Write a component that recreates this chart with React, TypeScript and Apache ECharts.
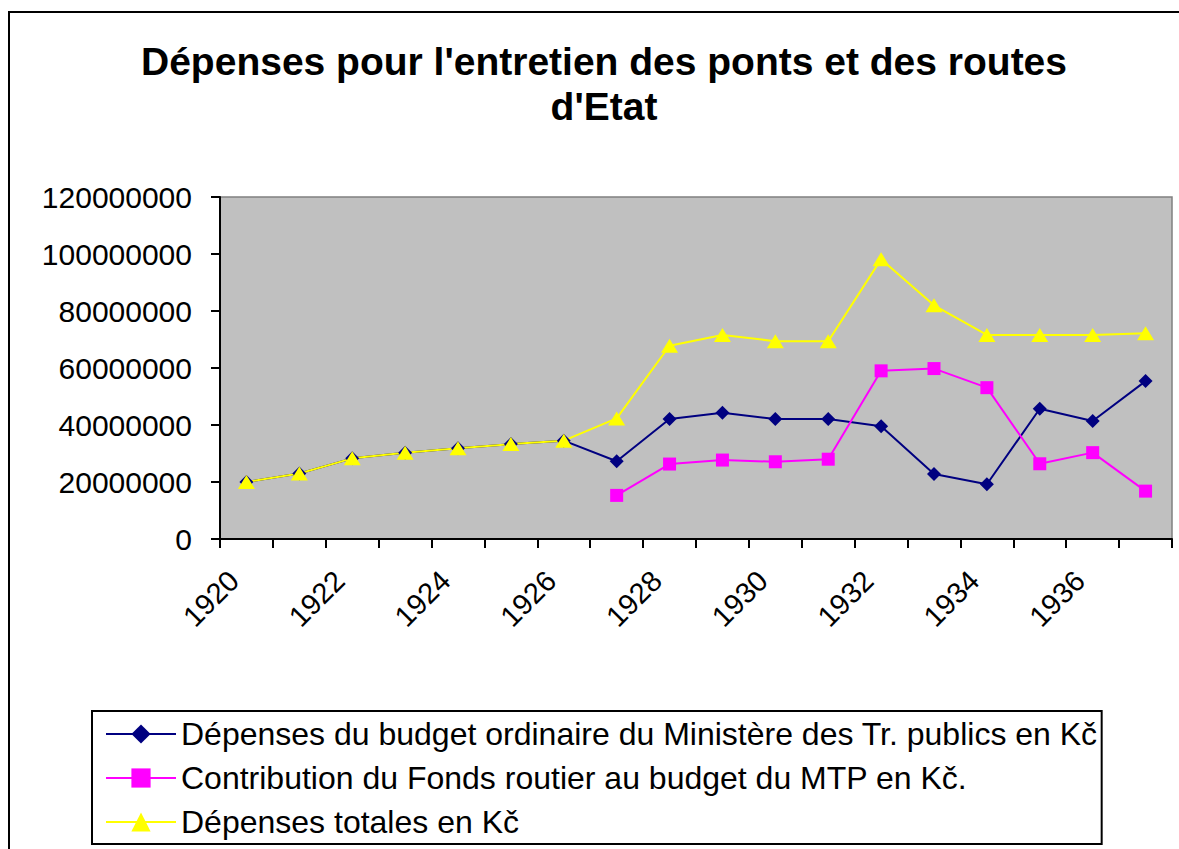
import React, { useEffect, useRef } from 'react';
import * as echarts from 'echarts';

const years = ['1920', '1921', '1922', '1923', '1924', '1925', '1926', '1927', '1928', '1929', '1930', '1931', '1932', '1933', '1934', '1935', '1936', '1937'];

const ministere = [20000000, 23000000, 28300000, 30300000, 31800000, 33300000, 34500000, 27300000, 42100000, 44300000, 42100000, 42100000, 39600000, 22800000, 19200000, 45700000, 41400000, 55400000];

const fondsRoutier = [null, null, null, null, null, null, null, 15300000, 26300000, 27700000, 27100000, 28000000, 59000000, 59800000, 53100000, 26400000, 30300000, 16800000];

const totales = [20000000, 23000000, 28300000, 30300000, 31800000, 33300000, 34500000, 42300000, 67800000, 71600000, 69400000, 69400000, 98200000, 82000000, 71600000, 71600000, 71600000, 72200000];

const seriesNames = [
  'Dépenses du budget ordinaire du Ministère des Tr. publics en Kč',
  'Contribution du Fonds routier au budget du MTP en Kč.',
  'Dépenses totales en Kč',
];

const titleText = "Dépenses pour l'entretien des ponts et des routes\nd'Etat";

const FONT = '"Liberation Sans", Arial, sans-serif';

export default function App() {
  const ref = useRef<HTMLDivElement>(null);
  useEffect(() => {
    const chart = echarts.init(ref.current!, null, { renderer: 'svg' });
    chart.setOption({
      animation: false,
      backgroundColor: '#ffffff',
      textStyle: { fontFamily: FONT },
      title: {
        text: titleText,
        left: 599,
        top: 34,
        textAlign: 'center',
        textStyle: {
          fontFamily: FONT,
          fontSize: 39,
          fontWeight: 'bold',
          color: '#000',
          lineHeight: 45,
        },
      },
      graphic: [
        {
          type: 'rect',
          shape: { x: 9, y: 12, width: 1300, height: 1000 },
          style: { fill: 'none', stroke: '#000', lineWidth: 2 },
          silent: true,
          z: -10,
        },
      ],
      legend: {
        orient: 'vertical',
        left: 92,
        top: 711,
        padding: [7, 4, 6, 13],
        itemGap: 12,
        itemWidth: 70,
        itemHeight: 24,
        borderColor: '#000',
        borderWidth: 2,
        data: seriesNames,
        textStyle: { fontFamily: FONT, fontSize: 32, lineHeight: 32, color: '#000' },
      },
      grid: {
        left: 220,
        top: 197,
        width: 952,
        height: 342,
        show: true,
        backgroundColor: '#C0C0C0',
        borderColor: '#808080',
        borderWidth: 1.5,
      },
      xAxis: {
        type: 'category',
        data: years,
        boundaryGap: true,
        axisLine: { show: true, lineStyle: { color: '#000', width: 2 } },
        axisTick: { show: true, interval: 0, length: 9, lineStyle: { color: '#000', width: 2 } },
        axisLabel: {
          interval: 1,
          rotate: 45,
          margin: 24,
          padding: [0, 18, 0, 0],
          fontFamily: FONT,
          fontSize: 29,
          color: '#000',
        },
        splitLine: { show: false },
      },
      yAxis: {
        type: 'value',
        min: 0,
        max: 120000000,
        interval: 20000000,
        axisLine: { show: true, lineStyle: { color: '#000', width: 2 } },
        axisTick: { show: true, length: 9, lineStyle: { color: '#000', width: 2 } },
        axisLabel: {
          margin: 28,
          fontFamily: FONT,
          fontSize: 30,
          color: '#000',
          formatter: (v: number) => String(v),
        },
        splitLine: { show: false },
      },
      series: [
        {
          name: seriesNames[0],
          type: 'line',
          data: ministere,
          symbol: 'diamond',
          symbolSize: 14,
          lineStyle: { color: '#000080', width: 2 },
          itemStyle: { color: '#000080' },
        },
        {
          name: seriesNames[1],
          type: 'line',
          data: fondsRoutier,
          symbol: 'rect',
          symbolSize: 13,
          connectNulls: false,
          lineStyle: { color: '#FF00FF', width: 2 },
          itemStyle: { color: '#FF00FF' },
        },
        {
          name: seriesNames[2],
          type: 'line',
          data: totales,
          symbol: 'triangle',
          symbolSize: [17, 14],
          lineStyle: { color: '#FFFF00', width: 2 },
          itemStyle: { color: '#FFFF00' },
        },
      ],
    });
    return () => chart.dispose();
  }, []);
  return (
    <div
      ref={ref}
      style={{ position: 'absolute', left: 0, top: 0, width: 1179, height: 849, background: '#fff' }}
    />
  );
}
